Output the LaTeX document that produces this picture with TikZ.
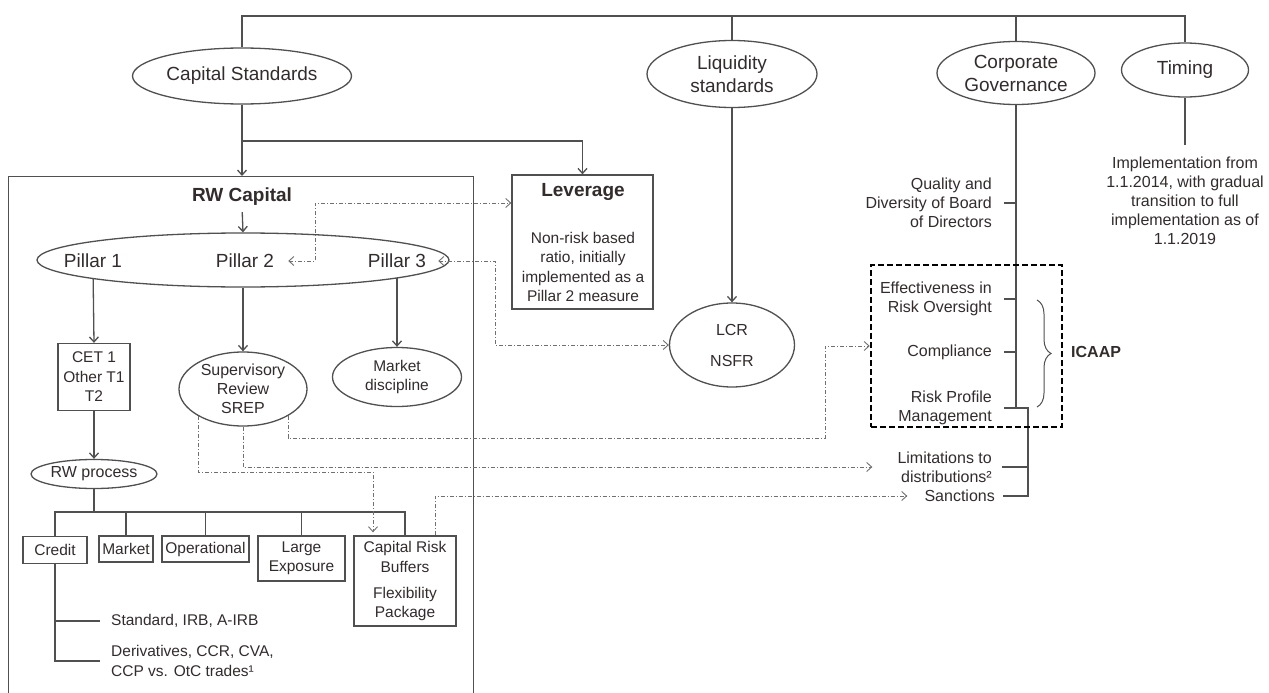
\documentclass[tikz,border=0pt]{standalone}
\usepackage{fontspec}
\setmainfont{Liberation Sans}
\usetikzlibrary{shapes.geometric,arrows.meta,decorations.pathreplacing}
\definecolor{lnc}{HTML}{505050}
\definecolor{ddc}{HTML}{707070}
\definecolor{txc}{HTML}{332C2C}
\newcommand\fszA{\fontsize{19}{23}\selectfont}
\newcommand\fszB{\fontsize{16}{19}\selectfont}
\newcommand\fszC{\fontsize{15.5}{19.5}\selectfont}
\tikzset{
 ln/.style={draw=lnc, line width=1.3pt},
 arr/.style={ln, -{Straight Barb[length=5pt,width=9pt]}},
 dd/.style={draw=ddc, line width=0.9pt, dash pattern=on 4pt off 2pt on 1pt off 2pt},
 ddarr/.style={dd, -{Straight Barb[length=5pt,width=9pt]}},
 ddboth/.style={dd, {Straight Barb[length=5pt,width=9pt]}-{Straight Barb[length=5pt,width=9pt]}},
 ell/.style={ellipse, ln, inner sep=0, text=txc, align=center},
 bx/.style={rectangle, ln, inner sep=0, text=txc, align=center},
 tx/.style={inner sep=0, text=txc},
}
\begin{document}
\begin{tikzpicture}[x=1pt,y=-1pt]
\useasboundingbox[fill=white] (0,0) rectangle (1269,693);

% top level
\node[ell, font=\fszA, minimum width=219pt, minimum height=56pt] (cap) at (242,76) {Capital Standards};
\node[ell, font=\fszA, minimum width=170pt, minimum height=67pt] (liq) at (732,74) {Liquidity\\standards};
\node[ell, font=\fszA, minimum width=158pt, minimum height=63pt] (cg) at (1016,73) {Corporate\\Governance};
\node[ell, font=\fszA, minimum width=127pt, minimum height=54pt] (tim) at (1185,70) {Timing};
\coordinate (top) at (242,16);
\draw[ln] (cap.north) -- (cap.north |- top) -| (tim.north);
\draw[ln] (liq.north) -- (liq.north |- top);
\draw[ln] (cg.north) -- (cg.north |- top);

% capital standards branch
\node[bx, anchor=north west, minimum width=465pt, minimum height=540pt] (rwbox) at (8,176) {};
\node[bx, minimum width=141pt, minimum height=134pt] (lev) at (582.5,242) {};
\node[tx, font=\bfseries\fszA] (levt) at (583,192) {Leverage};
\node[tx, font=\fszC, align=center] (levb) at (583,267) {Non-risk based\\ratio, initially\\implemented as a\\Pillar 2 measure};
\coordinate (j) at (242,141);
\draw[ln] (cap.south) -- (j);
\draw[arr] (j) -- (j |- rwbox.north);
\draw[arr] (j) -| (lev.north);

\node[tx, font=\bfseries\fszA] (rwt) at (242,197) {RW Capital};
\node[ell, minimum width=412pt, minimum height=54pt] (pil) at (243,260) {};
\draw[arr, shorten <=6pt] (rwt.south) -- (pil.north);
\node[tx, font=\fszA] (p1) at (93,261) {Pillar 1};
\node[tx, font=\fszA] (p2) at (245,261) {Pillar 2};
\node[tx, font=\fszA] (p3) at (397,261) {Pillar 3};

\node[bx, font=\fszC, minimum width=72pt, minimum height=67pt] (cet) at (94,377) {CET 1\\Other T1\\T2};
\node[ell, font=\fszB, minimum width=128pt, minimum height=74pt] (srep) at (243,389) {Supervisory\\Review\\SREP};
\node[ell, font=\fszC, minimum width=129pt, minimum height=59pt] (mkt) at (397,377) {Market\\discipline};
\draw[arr, shorten <=11pt] (p1.south) -- (cet.north);
\draw[arr] (pil.south) -- (srep.north);
\draw[arr, shorten <=10pt] (p3.south) -- (mkt.north);

\node[ell, font=\fszB, minimum width=126pt, minimum height=29pt] (rwp) at (94,474) {RW process};
\draw[arr] (cet.south) -- (rwp.north);

\node[bx, font=\fszC, minimum width=64pt, minimum height=27pt] (cr) at (55,550) {Credit};
\node[bx, font=\fszC, minimum width=54pt, minimum height=26pt] (mk) at (126,549) {Market};
\node[bx, font=\fszC, minimum width=87pt, minimum height=26pt] (op) at (205.5,549) {Operational};
\node[bx, font=\fszC, minimum width=87pt, minimum height=45pt] (le) at (301.5,558.5) {Large\\Exposure};
\node[bx, font=\fszC, minimum width=102pt, minimum height=90pt] (crb) at (405,581) {Capital Risk\\Buffers\\[6.5pt]Flexibility\\Package};
\coordinate (bar) at (94,512);
\draw[ln] (rwp.south) -- (bar);
\draw[ln] (cr.north) -- (cr.north |- bar) -- (crb.north |- bar) -- (crb.north);
\draw[ln] (mk.north) -- (mk.north |- bar);
\draw[ln] (op.north) -- (op.north |- bar);
\draw[ln] (le.north) -- (le.north |- bar);

\node[tx, font=\fszC, anchor=west] (std) at (111,621) {Standard, IRB, A-IRB};
\node[tx, font=\fszC, anchor=west, align=left] (der) at (111,661) {Derivatives, CCR, CVA,\\CCP vs. OtC trades¹};
\draw[ln, shorten >=11pt] (cr.south) |- (der.west);
\draw[ln, shorten >=11pt] (cr.south |- std.west) -- (std.west);

% liquidity
\node[ell, font=\fszB, minimum width=125pt, minimum height=84pt] (lcr) at (732,345) {LCR\\[12pt]NSFR};
\draw[arr] (liq.south) -- (lcr.north);

% governance
\node[tx, font=\fszB, anchor=east, align=right] (qual) at (992,203) {Quality and\\Diversity of Board\\of Directors};
\node[tx, font=\fszB, anchor=east, align=right] (eff) at (992,299) {Effectiveness in\\Risk Oversight};
\node[tx, font=\fszB, anchor=east, align=right] (comp) at (992,352) {Compliance};
\node[tx, font=\fszB, anchor=east, align=right] (risk) at (992,408) {Risk Profile\\Management};
\node[tx, font=\fszB, anchor=east, align=right] (lim) at (992,467) {Limitations to\\distributions²};
\node[tx, font=\fszB, anchor=east, align=right] (sanc) at (995,496) {Sanctions};
\coordinate (sp2) at (1028,408);
\draw[ln] (cg.south) -- (cg.south |- risk.east);
\draw[ln] ([xshift=12pt]qual.east) -- (qual.east -| cg.south);
\draw[ln] ([xshift=12pt]eff.east) -- (eff.east -| cg.south);
\draw[ln] ([xshift=12pt]comp.east) -- (comp.east -| cg.south);
\draw[ln] ([xshift=12pt]risk.east) -- (sp2) -- (sp2 |- sanc.east) -- ([xshift=8pt]sanc.east);
\draw[ln] ([xshift=10pt]lim.east) -- (lim.east -| sp2);

\node[draw=black, line width=2.5pt, dash pattern=on 6pt off 3pt, minimum width=191pt, minimum height=162pt, inner sep=0] (icb) at (966.5,346) {};
\coordinate (bt) at (1037,300);
\coordinate (bb) at (1037,407);
\draw[ln, line width=1pt, decorate, decoration={brace, amplitude=14pt}] (bt) -- (bb);
\node[tx, font=\bfseries\fszB, anchor=west] (ica) at (1071,352) {ICAAP};

% timing
\node[tx, font=\fszB, align=center] (timt) at (1185,201) {Implementation from\\1.1.2014, with gradual\\transition to full\\implementation as of\\1.1.2019};
\draw[ln, shorten >=12pt] (tim.south) -- (timt.north);

% dash-dot links
\coordinate (k1) at (315,203);
\draw[ddboth, shorten <=14pt] (p2.east) -| (k1) -- (k1 -| lev.west);
\coordinate (k2) at (495,345);
\draw[ddboth, shorten <=12pt] (p3.east) -| (k2) -- (lcr.west);
\coordinate (k3) at (825,438);
\draw[ddarr] (srep.-31) -- (srep.-31 |- k3) -- (k3) |- (icb.west);
\draw[ddarr, shorten >=25pt] (srep.south) |- (lim.west);
\coordinate (k5) at (373,472);
\draw[ddarr, shorten >=3pt] (srep.211) |- (k5) -- (k5 |- crb.north);
\coordinate (k6) at (435,496);
\draw[ddarr, shorten >=17pt] (k6 |- crb.north) -- (k6) -- (k6 -| sanc.west);
\end{tikzpicture}
\end{document}
